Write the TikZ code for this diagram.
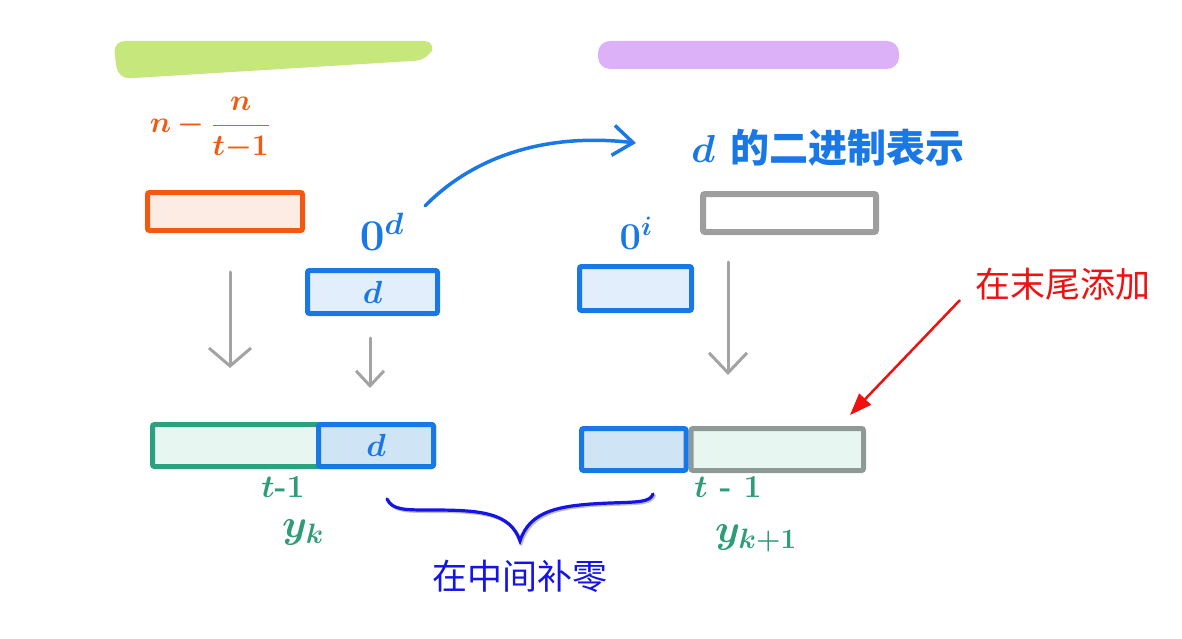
\RequirePackage{fix-cm}
\documentclass[tikz,border=0pt]{standalone}
\usepackage{amsmath}
\usepackage{bm}
\usepackage{fontspec}
\usepackage{tikz}
\usetikzlibrary{arrows.meta}
\newfontfamily\cjk{Noto Sans CJK SC}
\definecolor{hlgreen}{HTML}{C6E77C}
\definecolor{hlpurple}{HTML}{DDB1F7}
\definecolor{orangeline}{HTML}{F25A14}
\definecolor{orangefill}{HTML}{FDECE4}
\definecolor{inkblue}{HTML}{1A78E6}
\definecolor{bluefill}{HTML}{E2EEFB}
\definecolor{bluedeep}{HTML}{CFE4F5}
\definecolor{tealline}{HTML}{2CA07F}
\definecolor{tealfill}{HTML}{E8F6F1}
\definecolor{grayline}{HTML}{9E9E9E}
\definecolor{grayteal}{HTML}{8F9A96}
\definecolor{arrowgray}{HTML}{A3A3A3}
\definecolor{inkgreen}{HTML}{2E9C78}
\definecolor{bracecol}{HTML}{1414E6}
\definecolor{notered}{HTML}{F01010}

\begin{document}
\begin{tikzpicture}[x=1pt,y=-1pt,
    blk/.style={shape=rectangle,line width=5pt,rounded corners=2pt,inner sep=0pt},
    down/.style={draw=arrowgray,line width=3pt,line cap=round},
    hand/.style={inner sep=0pt,font=\fontsize{#1}{#1}\selectfont\bfseries},
    hand/.default=30,
    cjkhand/.style={font=\fontsize{39}{39}\selectfont\cjk\bfseries},
    note/.style={font=\fontsize{35}{35}\selectfont\cjk},
  ]
  \useasboundingbox (0,0) rectangle (1182,639);

  % highlighter strokes
  \fill[hlgreen,rounded corners=12pt] (113,41) -- (436,41) -- (428,60) -- (118,79) -- cycle;
  \fill[hlpurple,rounded corners=12pt] (598,41) -- (899,41) -- (899,69) -- (598,69) -- cycle;

  % top row
  \node (frac) [hand=30,text=orangeline] at (210,128) {$\bm{n-\dfrac{n}{t\mathord{-}1}}$};
  \node (orange) [blk,draw=orangeline,fill=orangefill,minimum width=155pt,minimum height=38pt] at (225,211.5) {};
  \node (zerod) [hand=44,text=inkblue] at (382,232) {$\bm{0^d}$};
  \node (dbox) [blk,draw=inkblue,fill=bluefill,minimum width=130pt,minimum height=43pt] at (372.5,292) {};
  \node [hand=32,text=inkblue] at (dbox) {$\bm{d}$};

  \node (binary) [cjkhand,text=inkblue] at (828,148) {$\bm{d}$\, 的二进制表示};
  \node (graybox) [blk,line width=6pt,draw=grayline,fill=white,minimum width=173pt,minimum height=38pt] at (789.5,213) {};
  \node (zeroi) [hand=38,text=inkblue] at (636,233) {$\bm{0^i}$};
  \node (ibox) [blk,draw=inkblue,fill=bluefill,minimum width=112pt,minimum height=44pt] at (635.5,288.5) {};

  % bottom row
  \node (yk) [blk,draw=tealline,fill=tealfill,minimum width=281pt,minimum height=42pt] at (293,445.5) {};
  \node (ykd) [blk,draw=inkblue,fill=bluedeep,minimum width=115pt,minimum height=42pt] at (376,445.5) {};
  \node [hand=32,text=inkblue] at (ykd) {$\bm{d}$};
  \node (yknext) [blk,draw=grayteal,fill=tealfill,minimum width=172.5pt,minimum height=42pt] at (777.25,449.5) {};
  \node (yknextd) [blk,draw=inkblue,fill=bluedeep,minimum width=104.5pt,minimum height=42pt] at (633.75,449.5) {};

  \node (lenl) [hand=32,text=inkgreen] at (283,487) {$\bm{t}$-1};
  \node (namel) [hand=40,text=inkgreen] at (303,532) {$\bm{y_k}$};
  \node (lenr) [hand=32,text=inkgreen] at (728,487) {$\bm{t}$ - 1};
  \node (namer) [hand=40,text=inkgreen] at (756,538) {$\bm{y_{k+1}}$};

  % arrows
  \coordinate (l1) at (230,272); \coordinate (l2) at (230,368);
  \coordinate (m1) at (370,338); \coordinate (m2) at (370,388);
  \coordinate (r1) at (728,262); \coordinate (r2) at (728,375);
  \draw[down,-{Straight Barb[length=18pt,width=42pt]}] (l1) -- (l2);
  \draw[down,-{Straight Barb[length=15pt,width=28pt]}] (m1) -- (m2);
  \draw[down,-{Straight Barb[length=20pt,width=38pt]}] (r1) -- (r2);

  \coordinate (c1) at (425,206); \coordinate (c2) at (636,143);
  \draw[inkblue,line width=3.5pt,line cap=round,-{Straight Barb[length=20pt,width=30pt]}]
    (c1) .. controls (470,160) and (540,132) .. (c2);

  % brace
  \draw[black!25,line width=3pt,line cap=round,xshift=1.5pt,yshift=-1.5pt]
    (387,499) .. controls (392,510) and (405,510) .. (430,510) .. controls (480,510) and (510,512) .. (520,541)
    .. controls (530,510) and (560,505) .. (610,503) .. controls (640,502) and (650,502) .. (653,494);
  \draw[bracecol,line width=3.2pt,line cap=round]
    (387,499) .. controls (392,510) and (405,510) .. (430,510) .. controls (480,510) and (510,512) .. (520,541)
    .. controls (530,510) and (560,505) .. (610,503) .. controls (640,502) and (650,502) .. (653,494);
  \node (middle) [note,text=bracecol] at (520,576) {在中间补零};

  % note for the end
  \node (tail) [note,text=notered] at (1063,284) {在末尾添加};
  \coordinate (t1) at (960,300); \coordinate (t2) at (850,415);
  \draw[notered,line width=2.5pt,-{Triangle[length=22pt,width=16pt]}] (t1) -- (t2);
\end{tikzpicture}
\end{document}
